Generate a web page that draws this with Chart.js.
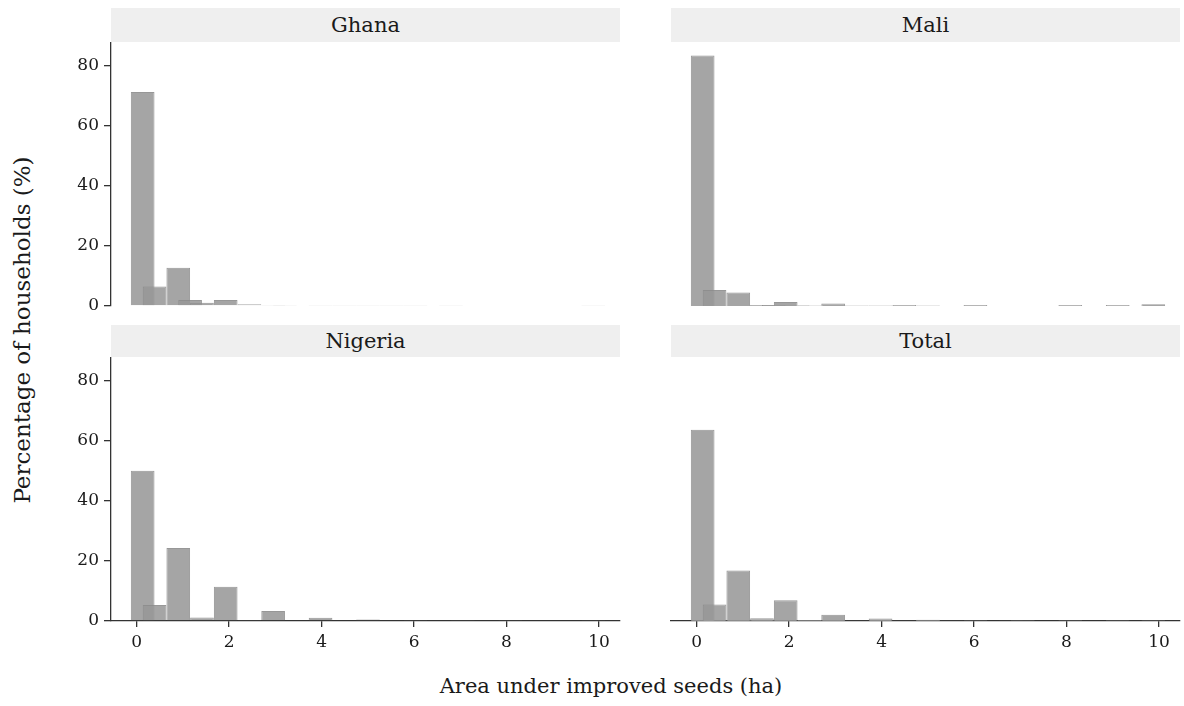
<!DOCTYPE html>
<html>
<head>
<meta charset="utf-8">
<script src="https://cdn.jsdelivr.net/npm/chart.js@4.4.1/dist/chart.umd.min.js"></script>
<style>
  html, body { margin: 0; padding: 0; background: #ffffff; }
  #wrap { position: relative; width: 1184px; height: 706px; overflow: hidden; font-family: 'DejaVu Serif', serif; color: #1a1a1a; }
  canvas { position: absolute; left: 0; top: 0; }
  .strip { position: absolute; background: #efefef; text-align: center; font-size: 21px; }
  .ytitle { position: absolute; left: 22px; top: 330px; transform: translate(-50%, -50%) rotate(-90deg); white-space: nowrap; font-size: 23px; }
  .xtitle { position: absolute; left: 611px; top: 686px; transform: translate(-50%, -50%); white-space: nowrap; font-size: 21px; }
</style>
</head>
<body>
<div id="wrap">
  <div class="strip" style="left:111px;top:8px;width:509px;height:34px;line-height:34px;">Ghana</div>
  <div class="strip" style="left:671px;top:8px;width:509px;height:34px;line-height:34px;">Mali</div>
  <div class="strip" style="left:111px;top:325px;width:509px;height:32px;line-height:32px;">Nigeria</div>
  <div class="strip" style="left:671px;top:325px;width:509px;height:32px;line-height:32px;">Total</div>
  <div class="ytitle">Percentage of households (%)</div>
  <div class="xtitle">Area under improved seeds (ha)</div>
  <canvas id="cGhana" width="1184" height="706"></canvas>
  <canvas id="cMali" width="1184" height="706"></canvas>
  <canvas id="cNigeria" width="1184" height="706"></canvas>
  <canvas id="cTotal" width="1184" height="706"></canvas>
</div>
<script>
// Bin centres (ha)
const binCenters = [0.130, 0.387, 0.643, 0.900, 1.156, 1.413, 1.669, 1.926, 2.182, 2.439,
                    2.695, 2.952, 3.208, 3.465, 3.721, 3.978, 4.234, 4.491, 4.747, 5.004,
                    5.260, 5.517, 5.773, 6.030, 6.286, 6.543, 6.799, 7.056, 7.312, 7.569,
                    7.825, 8.082, 8.338, 8.595, 8.851, 9.108, 9.364, 9.621, 9.877];

// Percentage of households per bin
const ghana   = [71.2, 6.5, null, 12.7, 2.0, 1.1, null, 2.0, null, 0.6,
                 null, 0.2, 0.2, null, null, 0.2, null, 0.2, null, 0.2,
                 null, 0.2, null, 0.2, null, null, 0.2, null, null, null,
                 null, null, null, null, null, null, null, null, 0.2];
const mali    = [83.3, 5.3, null, 4.5, null, 0.3, 0.3, 1.3, 0.2, 0.2,
                 null, 0.8, null, 0.2, null, 0.2, null, 0.3, null, 0.2,
                 null, null, null, 0.3, null, null, null, null, null, null,
                 null, 0.3, null, null, null, 0.3, null, null, 0.6];
const nigeria = [50.0, 5.3, null, 24.3, null, 1.2, null, 11.4, null, 0.3,
                 null, 3.3, null, null, null, 1.1, null, null, null, 0.5,
                 null, null, null, 0.2, null, null, null, 0.2, null, null,
                 null, 0.2, null, null, null, null, null, null, 0.2];
const total   = [63.6, 5.5, null, 16.8, null, 0.9, null, 6.9, null, 0.3,
                 null, 2.1, null, 0.1, null, 0.8, null, 0.1, null, 0.4,
                 null, 0.1, null, 0.2, null, null, 0.1, 0.2, null, null,
                 null, 0.2, null, null, null, 0.2, null, null, 0.2];

const xTicks = [0, 2, 4, 6, 8, 10];
const yTicks = [0, 20, 40, 60, 80];

Chart.defaults.font.family = "'DejaVu Serif', serif";
Chart.defaults.color = '#1a1a1a';

function makePanel(id, values, showX, showY, pad) {
  const data = binCenters.map((x, i) => ({ x: x, y: values[i] }));
  new Chart(document.getElementById(id), {
    type: 'bar',
    data: {
      datasets: [{
        data: data,
        backgroundColor: 'rgba(152,152,152,0.88)',
        borderColor: 'rgba(140,140,140,0.9)',
        borderWidth: 1,
        barPercentage: 2,
        categoryPercentage: 1
      }]
    },
    options: {
      responsive: false,
      animation: false,
      events: [],
      layout: { padding: pad },
      plugins: { legend: { display: false }, tooltip: { enabled: false } },
      scales: {
        x: {
          type: 'linear',
          offset: false,
          min: -0.555,
          max: 10.455,
          display: showX,
          afterFit: (s) => { if (showX) s.height = 40; },
          afterBuildTicks: (s) => { s.ticks = xTicks.map(v => ({ value: v })); },
          border: { display: true, color: '#333333', width: 1.3 },
          grid: { display: true, offset: false, drawOnChartArea: false, drawTicks: true, tickLength: 6, color: '#333333', lineWidth: 1.3 },
          ticks: { font: { size: 17 }, color: '#1a1a1a', padding: 5, maxRotation: 0 }
        },
        y: {
          type: 'linear',
          min: 0,
          max: 87.5,
          display: showY,
          afterFit: (s) => { if (showY) s.width = 52; },
          afterBuildTicks: (s) => { s.ticks = yTicks.map(v => ({ value: v })); },
          border: { display: true, color: '#333333', width: 1.3 },
          grid: { display: true, drawOnChartArea: false, drawTicks: true, tickLength: 7, color: '#333333', lineWidth: 1.3 },
          ticks: { font: { size: 17 }, color: '#1a1a1a', padding: 5 }
        }
      }
    }
  });
}

makePanel('cGhana',   ghana,   false, true,  { left: 59,  right: 564, top: 43,  bottom: 400 });
makePanel('cMali',    mali,    false, false, { left: 671, right: 4,   top: 43,  bottom: 400 });
makePanel('cNigeria', nigeria, true,  true,  { left: 59,  right: 564, top: 358, bottom: 45 });
makePanel('cTotal',   total,   true,  false, { left: 671, right: 4,   top: 358, bottom: 45 });
</script>
</body>
</html>
